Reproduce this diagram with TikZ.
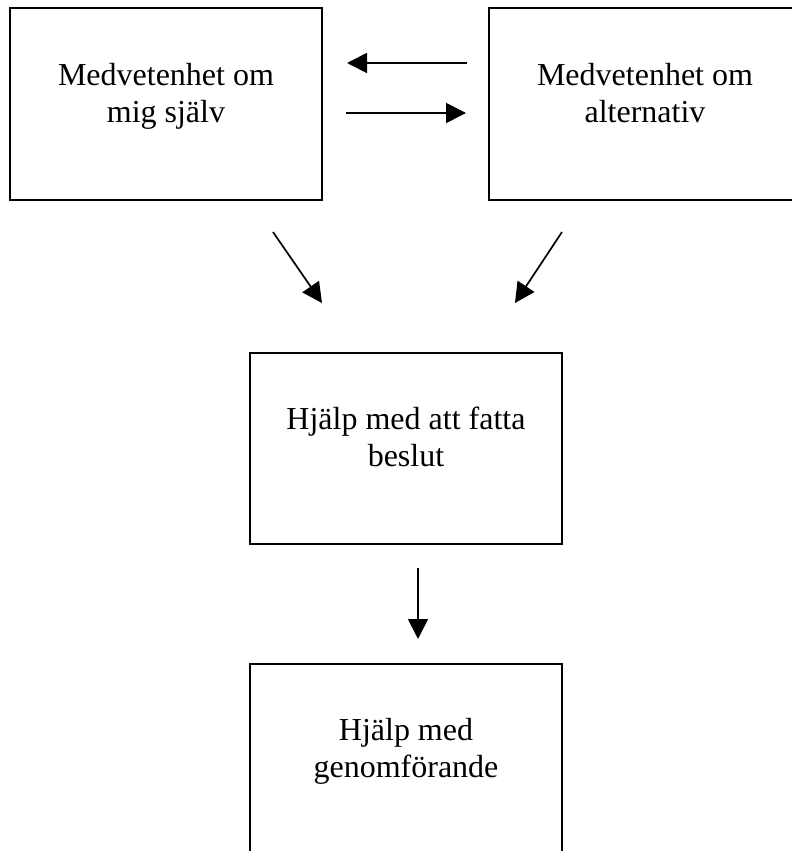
\documentclass[tikz,border=0pt]{standalone}
\usepackage{fontspec}
\setmainfont{Liberation Serif}
\usetikzlibrary{arrows.meta}
\begin{document}
\begin{tikzpicture}[x=1pt,y=-1pt,
  box/.style={draw=black,line width=1.8pt},
  lbl/.style={font=\fontsize{32}{37}\selectfont,align=center,anchor=base,inner sep=0pt},
  arr/.style={line width=1.7pt,-{Triangle[length=20pt,width=20pt]}}]
\useasboundingbox (0,0) rectangle (792,851);
% boxes
\draw[box] (10,8) rectangle (322,200);
\draw[box] (489,8) rectangle (801,200);
\draw[box] (250,353) rectangle (562,544);
\draw[box] (250,664) rectangle (562,860);
% texts (anchored at the baseline of the last line)
\node[lbl] (t1) at (166,122) {Medvetenhet om\\mig själv};
\node[lbl] (t2) at (645,122) {Medvetenhet om\\alternativ};
\node[lbl] (t3) at (406,466) {Hjälp med att fatta\\beslut};
\node[lbl] (t4) at (406,777) {Hjälp med\\genomförande};
% arrow endpoints
\coordinate (a1s) at (467,63);  \coordinate (a1e) at (347,63);
\coordinate (a2s) at (346,113); \coordinate (a2e) at (466,113);
\coordinate (a3s) at (273,232); \coordinate (a3e) at (322,303);
\coordinate (a4s) at (562,232); \coordinate (a4e) at (515,303);
\coordinate (a5s) at (418,568); \coordinate (a5e) at (418,639);
\draw[arr] (a1s) -- (a1e);
\draw[arr] (a2s) -- (a2e);
\draw[arr] (a3s) -- (a3e);
\draw[arr] (a4s) -- (a4e);
\draw[arr] (a5s) -- (a5e);
\end{tikzpicture}
\end{document}
